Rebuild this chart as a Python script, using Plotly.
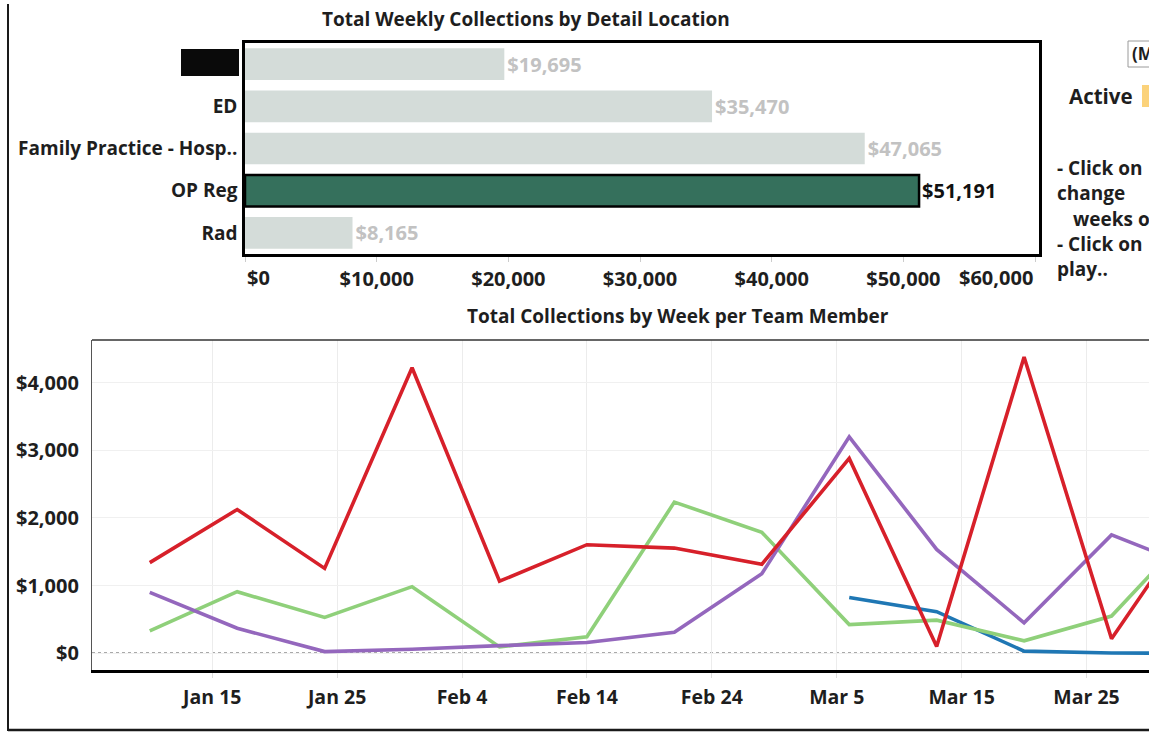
import plotly.graph_objects as go

W, H = 1149, 732

# ---------------- data ----------------
locations = ["Redacted", "ED", "Family Practice - Hosp..", "OP Reg", "Rad"]
loc_labels = ["", "ED", "Family Practice - Hosp..", "OP Reg", "Rad"]
collections = [19695, 35470, 47065, 51191, 8165]
selected = "OP Reg"
bar_ticks = [0, 10000, 20000, 30000, 40000, 50000, 60000]

weeks = ["2016-01-10", "2016-01-17", "2016-01-24", "2016-01-31", "2016-02-07",
         "2016-02-14", "2016-02-21", "2016-02-28", "2016-03-06", "2016-03-13",
         "2016-03-20", "2016-03-27", "2016-04-03"]
member_red = [1340, 2125, 1255, 4220, 1065, 1605, 1555, 1315, 2880, 100, 4380, 215, 2100]
member_purple = [900, 370, 25, 60, 113, 160, 310, 1175, 3200, 1535, 450, 1750, 1240]
member_green = [330, 910, 530, 985, 95, 245, 2235, 1790, 425, 490, 185, 550, 1930]
member_blue = [None, None, None, None, None, None, None, None, 825, 615, 32, 5, 0]
line_ticks = [0, 1000, 2000, 3000, 4000]

# ---------------- helpers ----------------
def X(px):
    return px / W

def Y(py):
    return 1 - py / H

FONT = "Open Sans"
DARK = "#1e1e1e"
FS_TXT = 19      # words
FS_NUM = 20      # numbers

fig = go.Figure()

bar_colors = ["#35705c" if l == selected else "#d4dcd9" for l in locations]
bar_line_w = [2.5 if l == selected else 0 for l in locations]
text_colors = ["#111111" if l == selected else "#c2c2c2" for l in locations]

fig.add_trace(go.Bar(
    y=locations, x=collections, orientation="h",
    marker=dict(color=bar_colors, line=dict(color="#000000", width=bar_line_w)),
    text=[f"${v:,.0f}" for v in collections], textposition="outside",
    textfont=dict(family=FONT, size=FS_NUM, color=text_colors, weight="bold"),
    cliponaxis=False, xaxis="x", yaxis="y", showlegend=False,
))

series = [("blue", member_blue, "#1f77b4"), ("green", member_green, "#8fd07a"),
          ("purple", member_purple, "#9467bd"), ("red", member_red, "#d7202a")]
for name, vals, col in series:
    fig.add_trace(go.Scatter(
        x=weeks, y=vals, mode="lines", name=name,
        line=dict(color=col, width=3.6), xaxis="x2", yaxis="y2", showlegend=False,
    ))

numfont = dict(family=FONT, size=FS_NUM, color=DARK, weight="bold")
txtfont = dict(family=FONT, size=FS_TXT, color=DARK, weight="bold")

fig.update_layout(
    width=W, height=H, margin=dict(l=0, r=0, t=0, b=0),
    paper_bgcolor="white", plot_bgcolor="white",
    bargap=0.25,
    xaxis=dict(domain=[X(245), X(1039)], anchor="y", range=[0, 60300],
               tickvals=bar_ticks,
               ticktext=["" if (v == bar_ticks[0] or v == bar_ticks[-1]) else f"${v:,.0f}" for v in bar_ticks],
               ticks="outside", ticklen=5, tickcolor="#cccccc", tickfont=numfont,
               showgrid=False, zeroline=False, showline=True, mirror=True,
               linecolor="#000000", linewidth=2.5, ticklabelstandoff=0),
    yaxis=dict(domain=[Y(254), Y(43)], anchor="x", type="category",
               categoryorder="array", categoryarray=locations, autorange="reversed",
               tickvals=locations, ticktext=loc_labels,
               tickfont=txtfont, ticks="", showgrid=False, zeroline=False,
               showline=True, mirror=True, linecolor="#000000", linewidth=2.5,
               ticklabelstandoff=1),
    xaxis2=dict(domain=[X(92), 1.0], anchor="y2", type="date",
                range=["2016-01-05 09:00", "2016-03-30 00:00"],
                tick0="2016-01-15", dtick=10 * 86400000, tickformat="%b %-d",
                ticks="outside", ticklen=5, tickcolor="#dddddd",
                tickfont=dict(family=FONT, size=19.5, color=DARK, weight="bold"),
                showgrid=True, gridcolor="#ececec", gridwidth=1, zeroline=False,
                showline=True, linecolor="#000000", linewidth=2.5,
                ticklabelstandoff=3),
    yaxis2=dict(domain=[Y(670), Y(340)], anchor="x2", range=[-247, 4631],
                tickvals=line_ticks, tickformat="$,.0f", tickfont=numfont,
                ticks="", showgrid=True, gridcolor="#f0f0f0", gridwidth=1,
                zeroline=False, showline=True, linecolor="#555555", linewidth=1.2,
                ticklabelstandoff=8),
)

shapes = [
    # dotted zero line
    dict(type="line", xref="x2 domain", yref="y2", x0=0, x1=1, y0=0, y1=0,
         line=dict(color="#555555", width=1.5, dash="dot"), layer="below"),
    # top border of line chart
    dict(type="line", xref="paper", yref="paper", x0=X(92), x1=1, y0=Y(340), y1=Y(340),
         line=dict(color="#333333", width=1.5)),
    # dashboard frame: left and bottom
    dict(type="line", xref="paper", yref="paper", x0=X(8), x1=X(8), y0=Y(4), y1=Y(731),
         line=dict(color="#1a1a1a", width=2)),
    dict(type="line", xref="paper", yref="paper", x0=X(8), x1=1, y0=Y(730), y1=Y(730),
         line=dict(color="#1a1a1a", width=2.5)),
    # redacted label blob
    dict(type="rect", xref="paper", yref="paper", x0=X(182), x1=X(238), y0=Y(75), y1=Y(50),
         fillcolor="#0a0a0a", line=dict(color="#0a0a0a", width=2)),
    # dropdown box
    dict(type="rect", xref="paper", yref="paper", x0=X(1128), x1=X(1160), y0=Y(67), y1=Y(41),
         fillcolor="white", line=dict(color="#9a9a9a", width=1)),
    # highlighted word after "Active"
    dict(type="rect", xref="paper", yref="paper", x0=X(1142), x1=X(1152), y0=Y(107), y1=Y(85),
         fillcolor="#fbd27a", line=dict(width=0)),
]

def ann(text, x, y, size=FS_TXT, xanchor="left", color=DARK):
    return dict(text=text, xref="paper", yref="paper", x=X(x), y=Y(y), showarrow=False,
                xanchor=xanchor, yanchor="middle",
                font=dict(family=FONT, size=size, color=color, weight="bold"))

annotations = [
    ann("Total Weekly Collections by Detail Location", 526, 19, FS_TXT, "center"),
    ann("Total Collections by Week per Team Member", 678, 316, FS_TXT, "center"),
    # end tick labels of the bar axis, kept inside the axis extent
    dict(text=f"${bar_ticks[0]:,.0f}", xref="x", yref="paper", x=bar_ticks[0], y=Y(277),
         xanchor="left", yanchor="middle", showarrow=False, font=numfont),
    dict(text=f"${bar_ticks[-1]:,.0f}", xref="x", yref="paper", x=bar_ticks[-1], y=Y(277),
         xanchor="right", yanchor="middle", showarrow=False, font=numfont),
    ann("(Multiple values)", 1130, 54, 17),
    ann("Active", 1067, 96, 20.5),
    ann("- Click on", 1055, 168),
    ann("change", 1055, 193),
    ann("weeks of", 1071, 219),
    ann("- Click on", 1055, 244),
    ann("play..", 1055, 269),
]

fig.update_layout(shapes=shapes, annotations=annotations)
fig.write_html("out.html")
